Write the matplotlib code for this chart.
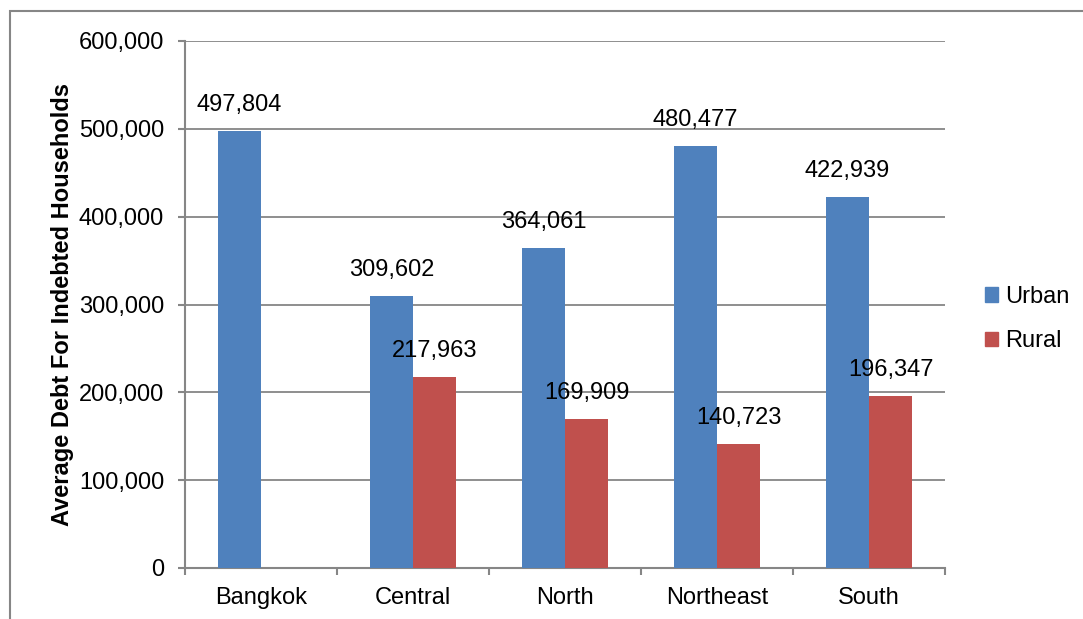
#Bar chart of average debt for indebted households by region
import numpy as np                                          #Numeric arrays
import matplotlib
matplotlib.use('Agg')
import matplotlib.pyplot as plt                             #Plotting functions
from matplotlib.patches import Rectangle, Patch             #Outer frame and legend keys

regions = ['Bangkok', 'Central', 'North', 'Northeast', 'South']
urban = [497804, 309602, 364061, 480477, 422939]
rural = [np.nan, 217963, 169909, 140723, 196347]           #Bangkok has no rural value
series_names = ['Urban', 'Rural']
yticks = [0, 100000, 200000, 300000, 400000, 500000, 600000]

BLUE = '#4F81BD'
RED = '#C0504D'
GREY = '#868686'
FS = 17

plt.rcParams['font.family'] = ['Liberation Sans', 'DejaVu Sans']

W, H = 1083, 619
fig = plt.figure(figsize=(W/100, H/100), dpi=100)
fig.patches.append(Rectangle((10/W, -0.1), 1.2, (H-11)/H+0.1, transform=fig.transFigure,
                             fill=False, edgecolor=GREY, linewidth=1.5))
ax = fig.add_axes([185/W, 51/H, 760/W, 527/H])

x = np.arange(len(regions))
bw = 0.283
b1 = ax.bar(x-bw/2, urban, bw, color=BLUE, zorder=3)
b2 = ax.bar(x+bw/2, rural, bw, color=RED, zorder=3)

#Data labels above each bar
for bars, vals in ((b1, urban), (b2, rural)):
    for bar, v in zip(bars, vals):
        if np.isnan(v):
            continue
        ax.annotate(f'{v:,.0f}', (bar.get_x()+bar.get_width()/2, v), xytext=(0, 26),
                    textcoords='offset pixels', ha='center', va='center', fontsize=FS, zorder=4)

ax.set_xlim(-0.5, len(regions)-0.5)
ax.set_ylim(0, 600000)
ax.set_yticks(yticks)
ax.set_yticklabels([f'{t:,}' for t in yticks], fontsize=FS)
ax.set_xticks(x)
ax.set_xticklabels(regions, fontsize=FS)
ax.set_xticks(np.arange(-0.5, len(regions)), minor=True)
ax.tick_params(axis='x', which='major', length=0, pad=14)
ax.tick_params(axis='x', which='minor', length=5, width=1.5, color=GREY)
ax.tick_params(axis='y', length=5, width=1.5, color=GREY, pad=10)
ax.grid(axis='y', color=GREY, linewidth=1.3, zorder=0)
for s in ('top', 'right'):
    ax.spines[s].set_visible(False)
for s in ('left', 'bottom'):
    ax.spines[s].set_color(GREY)
    ax.spines[s].set_linewidth(1.5)

fig.text(63/W, 1-304.5/H, 'Average Debt For Indebted Households', rotation=90,
         ha='center', va='center', fontsize=FS, fontweight='bold')

handles = [Patch(color=BLUE), Patch(color=RED)]
fig.legend(handles, series_names, loc='center left', bbox_to_anchor=(964/W, 1-319/H),
           frameon=False, fontsize=FS, handlelength=0.55, handleheight=0.55,
           handletextpad=0.3, labelspacing=0.95)

fig.savefig('out.png', dpi=100)
